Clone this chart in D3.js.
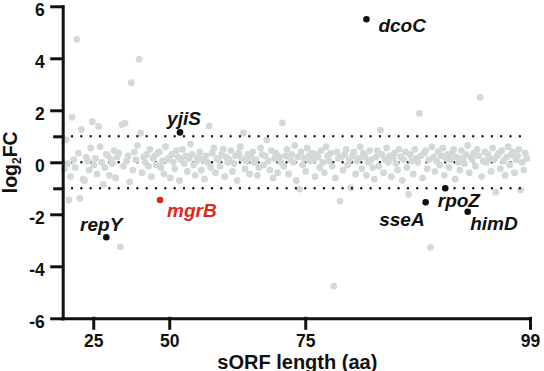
<!DOCTYPE html>
<html>
<head>
<meta charset="utf-8">
<script src="https://cdn.jsdelivr.net/npm/d3@7"></script>
<style>
  body { margin: 0; background: #fff; }
  text { font-family: "Liberation Sans", Arial, sans-serif; }
</style>
</head>
<body>
<div id="chart"></div>
<script>
// sORFs ranked by length, log2FC of each (rank = position in list + 1)
const grayLog2FC = [
  -0.25, 0.86, -0.05, -1.45, -0.55, 1.73, 0.1, -0.2, 4.73, 0.35, -1.38, 1.27, -0.65, -0.7, 0.2, 0.05, -0.3, 0.55, 1.56, -0.1,
  0.15, -0.45, 1.38, 0.6, 0.0, -0.85, -0.2, 0.3, 0.25, -0.5, 0.1, -0.05, 0.45, -0.6, 0.2, 0.35, -3.25, 1.45, -0.15, 1.5,
  0.05, 0.25, -0.75, 3.06, -0.3, 0.4, 0.1, 0.65, 3.96, 1.12, -0.4, 0.2, 0.0, 0.3, -0.15, 0.5, -0.55, 0.15, 0.25, -0.1,
  0.35, 0.4, -0.2, 0.05, -0.45, 0.6, 0.1, 0.15, -0.6, 0.3, 0.0, -0.25, 0.45, 0.2, -0.7, 0.1, 0.5, -0.05, 0.25, -0.35,
  0.15, 0.7, 0.3, -0.1, -0.5, 0.05, 0.2, 0.4, -0.3, 0.1, -0.65, 0.25, 0.0, 1.4, -0.2, 0.35, 0.55, -0.4, 0.15, 0.1,
  -0.15, 0.3, 0.5, -0.55, 0.2, 0.0, 0.1, 0.45, -0.35, -0.05, 0.25, -0.7, 0.35, 0.6, 0.15, 1.13, -0.25, 0.05, 0.3, -0.45,
  0.2, 0.4, 0.0, 0.1, -0.5, -0.2, 0.55, 0.3, -0.1, 0.25, 0.86, 0.05, -0.3, 0.45, -0.6, 0.15, 0.35, -0.4, 0.2, 0.0,
  1.52, -0.15, 0.25, 0.5, -0.45, 0.1, 0.3, 0.0, 0.65, -0.7, 0.2, -1.03, 0.4, -0.1, 0.15, -0.35, 0.55, 0.25, 0.05, 0.35,
  0.1, -0.55, 0.3, 0.2, -0.2, 0.45, 0.0, -0.4, 0.6, 0.25, 0.05, 0.35, -0.15, -4.76, -0.6, 0.4, 0.15, -1.49, 0.2, -0.3,
  0.3, 0.5, -0.1, 0.1, -0.98, 0.25, 0.4, -0.45, 0.05, 0.15, 0.6, -0.25, 0.35, 0.2, -0.5, 0.0, 0.45, 0.1, -0.2, -0.65,
  0.2, 0.45, -0.15, 1.24, 0.3, -0.4, 0.1, 0.55, 0.0, 0.25, -0.55, 0.15, 0.35, -0.05, -0.3, 0.5, 0.2, -0.7, 0.1, 0.4,
  -0.2, -1.23, 0.3, 0.05, -0.45, 0.5, 0.15, 0.0, 1.88, 0.25, -0.6, 0.35, 0.45, -0.25, 0.1, -3.27, 0.6, 0.2, -0.35, 0.05,
  0.4, -0.1, 0.25, 0.55, -0.5, 0.15, 0.3, -0.2, 0.1, 0.35, 0.5, -0.65, 0.2, 0.0, -0.3, 0.45, 0.15, -0.05, 0.3, 0.65,
  -0.4, 0.2, 0.1, 0.35, -0.15, 0.5, 0.25, 2.5, -0.55, 0.05, 0.4, 0.0, 0.3, 0.15, -0.35, 0.55, 0.1, -1.15, 0.25, 0.35,
  -0.25, 0.45, 0.05, -0.5, 0.2, 0.6, -0.1, 0.3, 0.4, -0.4, 0.1, 0.25, 0.5, -1.07, 0.0, -0.3, 0.35, 0.15
]

// named sORFs
const hitNames = ["repY", "mgrB", "yjiS", "dcoC", "sseA", "rpoZ", "himD"]
const hitRanks = [28, 62.5, 75.3, 195, 233, 245.6, 260]
const hitLog2FC = [-2.88, -1.45, 1.15, 5.5, -1.54, -1.0, -1.9]

const totalRanks = 300
const xTickRanks = [19.6, 68.4, 155.7, 300]
const xTickLabels = [25, 50, 75, 99]
const yTicks = [-6, -4, -2, 0, 2, 4, 6]
const yMinorTicks = [-1, 1]
const cutoffs = [1, -1]

// label placement next to each dot: [dx, dy, anchor]
const labelPos = {
  repY: [16, -6, "end"],
  mgrB: [7, 17, "start"],
  yjiS: [4, -7.5, "middle"],
  dcoC: [12, 13, "start"],
  sseA: [-1, 23.5, "end"],
  rpoZ: [-7.5, 18.5, "start"],
  himD: [2.5, 18.5, "start"]
}

const width = 544,
      height = 371
const margin = {top: 6.3, right: 14, bottom: 52.7, left: 62.7}

const svg = d3.select("#chart").append("svg")
    .attr("width", width)
    .attr("height", height)

const x = d3.scaleLinear()
    .domain([0, totalRanks])
    .range([margin.left, width - margin.right])

const y = d3.scaleLinear()
    .domain([-6, 6])
    .range([height - margin.bottom, margin.top])

// zero line sits under the points
svg.append("line")
    .attr("x1", x(0)).attr("x2", x(totalRanks) - 8)
    .attr("y1", y(0)).attr("y2", y(0))
    .attr("stroke", "#111")
    .attr("stroke-width", 2.4)
    .attr("stroke-linecap", "round")
    .attr("stroke-dasharray", "0 9.33")

svg.append("g")
    .selectAll("circle")
    .data(grayLog2FC)
    .enter()
    .append("circle")
    .attr("cx", (d, i) => x(i + 1))
    .attr("cy", d => y(d))
    .attr("r", 3.4)
    .attr("fill", "#d3d8d8")

svg.append("g")
    .selectAll("line")
    .data(cutoffs)
    .enter()
    .append("line")
    .attr("x1", x(0)).attr("x2", x(totalRanks) - 8)
    .attr("y1", d => y(d)).attr("y2", d => y(d))
    .attr("stroke", "#111")
    .attr("stroke-width", 2.4)
    .attr("stroke-linecap", "round")
    .attr("stroke-dasharray", "0 9.33")

const hits = hitNames.map((name, i) => ({name: name, rank: hitRanks[i], fc: hitLog2FC[i]}))

const hitG = svg.append("g")
    .selectAll("g.hit")
    .data(hits)
    .enter()
    .append("g")
    .attr("class", "hit")
    .attr("transform", d => "translate(" + x(d.rank) + "," + y(d.fc) + ")")

hitG.append("circle")
    .attr("r", 3.3)
    .attr("fill", d => d.name == "mgrB" ? "#e1261c" : "#111")

hitG.append("text")
    .attr("x", d => labelPos[d.name][0])
    .attr("y", d => labelPos[d.name][1])
    .attr("text-anchor", d => labelPos[d.name][2])
    .attr("font-size", 19)
    .attr("font-weight", "bold")
    .attr("font-style", "italic")
    .attr("fill", d => d.name == "mgrB" ? "#e1261c" : "#111")
    .text(d => d.name)

// axes
const yAxis = svg.append("g")
    .attr("transform", "translate(" + margin.left + ",0)")
    .call(d3.axisLeft(y).tickValues(yTicks).tickSize(11).tickSizeOuter(0).tickPadding(7).tickFormat(d => String(d)))
yAxis.selectAll(".tick text").attr("dy", "0.52em")

svg.append("g")
    .attr("transform", "translate(" + margin.left + ",0)")
    .call(d3.axisLeft(y).tickValues(yMinorTicks).tickSize(8).tickSizeOuter(0).tickFormat(""))
    .select(".domain").remove()

const xAxis = svg.append("g")
    .attr("transform", "translate(0," + (height - margin.bottom) + ")")
    .call(d3.axisBottom(x).tickValues(xTickRanks).tickSize(10).tickSizeOuter(0).tickPadding(6).tickFormat((d, i) => xTickLabels[i]))

svg.selectAll(".domain, .tick line")
    .attr("stroke", "#111")
    .attr("stroke-width", 3)
    .attr("stroke-linecap", "square")

svg.selectAll(".tick text")
    .attr("font-family", "Liberation Sans, Arial, sans-serif")
    .attr("font-size", 17.5)
    .attr("font-weight", "bold")
    .attr("fill", "#111")

svg.append("text")
    .attr("x", x(totalRanks / 2) + 1)
    .attr("y", 368.5)
    .attr("text-anchor", "middle")
    .attr("font-size", 20)
    .attr("font-weight", "bold")
    .attr("fill", "#111")
    .text("sORF length (aa)")

const yTitle = svg.append("text")
    .attr("transform", "translate(17," + y(0) + ") rotate(-90)")
    .attr("text-anchor", "middle")
    .attr("font-size", 19.5)
    .attr("font-weight", "bold")
    .attr("fill", "#111")
yTitle.append("tspan").text("log")
yTitle.append("tspan").attr("font-size", 12).attr("dy", 4).text("2")
yTitle.append("tspan").attr("dy", -4).text("FC")
</script>
</body>
</html>
